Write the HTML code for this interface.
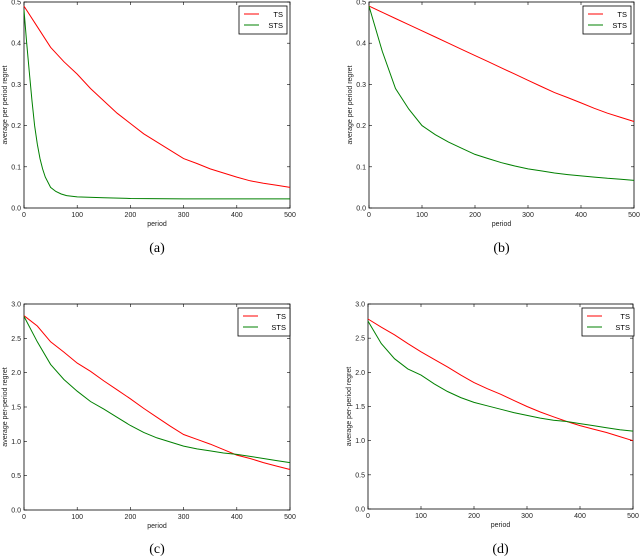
<!DOCTYPE html>
<html><head><meta charset="utf-8">
<style>
body{margin:0;background:#fff;width:640px;height:560px;overflow:hidden}
svg{display:block}
text{font-family:"Liberation Sans",sans-serif}
.cap{font-family:"Liberation Serif",serif;font-size:14px}
</style></head>
<body>
<svg id="c" width="640" height="560"></svg>
<script>
const xTicks=[0,100,200,300,400,500];
const yTicksTop=[0,0.1,0.2,0.3,0.4,0.5];
const yTicksBot=[0,0.5,1,1.5,2,2.5,3];
const xsA_STS=[0,5,10,15,20,25,30,35,40,50,60,70,80,100,150,200,300,400,500];
const aSTS=[0.48,0.40,0.33,0.26,0.20,0.155,0.12,0.095,0.075,0.05,0.04,0.034,0.03,0.027,0.025,0.023,0.022,0.022,0.022];
const xs25=[0,25,50,75,100,125,150,175,200,225,250,275,300,325,350,375,400,425,450,475,500];
const aTS=[0.49,0.44,0.39,0.355,0.325,0.29,0.26,0.23,0.205,0.18,0.16,0.14,0.12,0.108,0.095,0.085,0.075,0.066,0.06,0.055,0.05];
const bTS=[0.49,0.475,0.46,0.445,0.43,0.415,0.40,0.385,0.37,0.355,0.34,0.325,0.31,0.295,0.28,0.268,0.255,0.242,0.23,0.22,0.21];
const bSTS=[0.49,0.38,0.29,0.24,0.20,0.178,0.16,0.145,0.13,0.12,0.11,0.102,0.095,0.09,0.085,0.081,0.078,0.075,0.072,0.07,0.067];
const cTS=[2.83,2.68,2.45,2.3,2.14,2.02,1.88,1.75,1.62,1.48,1.35,1.22,1.1,1.03,0.96,0.88,0.8,0.75,0.69,0.64,0.59];
const cSTS=[2.82,2.45,2.12,1.9,1.73,1.58,1.47,1.35,1.23,1.13,1.05,0.99,0.93,0.89,0.86,0.83,0.81,0.78,0.75,0.72,0.69];
const dTS=[2.78,2.66,2.55,2.42,2.3,2.19,2.08,1.96,1.85,1.76,1.68,1.59,1.5,1.42,1.35,1.28,1.22,1.17,1.12,1.06,1.0];
const dSTS=[2.75,2.42,2.2,2.05,1.96,1.83,1.72,1.63,1.56,1.51,1.46,1.41,1.37,1.33,1.3,1.28,1.25,1.22,1.19,1.16,1.14];

const NS="http://www.w3.org/2000/svg";
const svg=document.getElementById('c');
function mk(tag,attrs,parent){const e=document.createElementNS(NS,tag);for(const k in attrs)e.setAttribute(k,attrs[k]);(parent||svg).appendChild(e);return e;}

function panel(id,x0,x1,yTop,yBot,ymax,yTicks,fmt,ylab,series,leg,cap,capY){
  const g=mk('g',{});
  
  
  const sx=v=>x0+(v/500)*(x1-x0);
  const sy=v=>yBot-(v/ymax)*(yBot-yTop);
  const frame=mk('rect',{x:x0,y:yTop,width:x1-x0,height:yBot-yTop,fill:'none',stroke:'#000','stroke-width':0.8},g);
  
  
  xTicks.forEach(t=>{
    const X=sx(t);
    mk('line',{x1:X,x2:X,y1:yBot,y2:yBot-3,stroke:'#000','stroke-width':0.6},g);
    mk('line',{x1:X,x2:X,y1:yTop,y2:yTop+3,stroke:'#000','stroke-width':0.6},g);
    const tx=mk('text',{x:X,y:yBot+9,'font-size':7,'text-anchor':'middle',fill:'#222'},g);
    tx.textContent=t;
    
    
  });
  yTicks.forEach(t=>{
    const Y=sy(t);
    mk('line',{x1:x0,x2:x0+3,y1:Y,y2:Y,stroke:'#000','stroke-width':0.6},g);
    mk('line',{x1:x1,x2:x1-3,y1:Y,y2:Y,stroke:'#000','stroke-width':0.6},g);
    const tx=mk('text',{x:x0-3,y:Y+2.5,'font-size':7,'text-anchor':'end',fill:'#222'},g);
    tx.textContent=t.toFixed(1);
    
    
  });
  const xl=mk('text',{x:(x0+x1)/2,y:yBot+18,'font-size':7,'text-anchor':'middle',fill:'#222'},g);
  xl.textContent='period';
  
  
  const yl=mk('text',{x:0,y:0,'font-size':7,'text-anchor':'middle',fill:'#222',transform:`translate(${x0-17},${(yTop+yBot)/2}) rotate(-90)`},g);
  yl.textContent=ylab;
  
  
  series.forEach(s=>{
    const d=s.xs.map((v,i)=>(i?'L':'M')+sx(v).toFixed(1)+','+sy(s.ys[i]).toFixed(1)).join(' ');
    const p=mk('path',{d:d,fill:'none',stroke:s.color,'stroke-width':1},g);
    
    
  });
  const lg=mk('g',{},g);
  
  
  mk('rect',{x:leg[0],y:leg[1],width:leg[2],height:28,fill:'#fff',stroke:'#000','stroke-width':0.8},lg);
  series.forEach((s,i)=>{
    const ly=leg[1]+8+i*11;
    mk('line',{x1:leg[0]+5,x2:leg[0]+20,y1:ly,y2:ly,stroke:s.color,'stroke-width':1},lg);
    const t=mk('text',{x:leg[0]+leg[2]-4,y:ly+3,'font-size':7.5,'text-anchor':'end',fill:'#000'},lg);
    t.textContent=s.name;
    
    
  });
  const c=mk('text',{x:(x0+x1)/2,y:capY,'text-anchor':'middle',class:'cap'},g);
  c.textContent=cap;
  
  
}
const R='#ff0000',G='#008000';
panel('a',24,290,2,208,0.5,yTicksTop,1,'average per period regret',
  [{name:'TS',xs:xs25,ys:aTS,color:R},{name:'STS',xs:xsA_STS,ys:aSTS,color:G}],[239,6,48],'(a)',252);
panel('b',369,634,2,208,0.5,yTicksTop,1,'average per period regret',
  [{name:'TS',xs:xs25,ys:bTS,color:R},{name:'STS',xs:xs25,ys:bSTS,color:G}],[583,6,48],'(b)',252);
panel('c',24,290,304,510,3,yTicksBot,1,'average per-period regret',
  [{name:'TS',xs:xs25,ys:cTS,color:R},{name:'STS',xs:xs25,ys:cSTS,color:G}],[238,308,52],'(c)',553);
panel('d',368,633,304,509,3,yTicksBot,1,'average per-period regret',
  [{name:'TS',xs:xs25,ys:dTS,color:R},{name:'STS',xs:xs25,ys:dSTS,color:G}],[582,308,52],'(d)',553);
</script>
</body></html>
